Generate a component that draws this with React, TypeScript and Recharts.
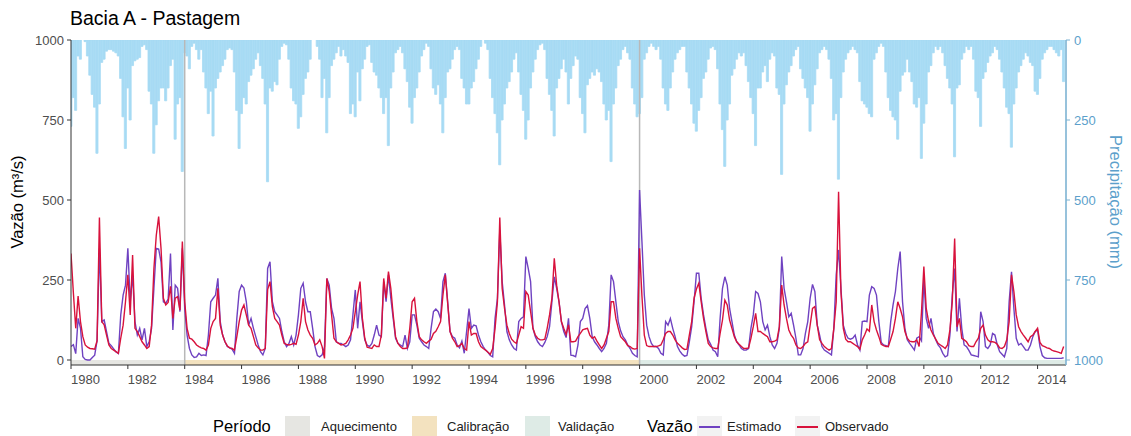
import { ComposedChart, Bar, Line, XAxis, YAxis, ReferenceArea, ReferenceLine } from 'recharts'

// monthly series, Jan 1980 .. Dec 2014 (one row per year)
const START_YEAR = 1980

const observado = [
  333, 210, 99, 200, 120, 73, 47, 40, 36, 35, 34, 60,
  445, 120, 110, 78, 47, 36, 31, 26, 21, 68, 109, 182,
  266, 141, 328, 99, 89, 73, 57, 47, 36, 42, 109, 286,
  390, 448, 349, 193, 172, 180, 230, 130, 193, 198, 156, 370,
  182, 99, 68, 65, 57, 47, 42, 38, 36, 31, 47, 99,
  120, 130, 224, 109, 78, 57, 44, 38, 36, 31, 73, 120,
  156, 172, 141, 109, 99, 73, 47, 38, 31, 31, 36, 220,
  245, 167, 130, 120, 109, 78, 52, 49, 47, 49, 52, 49,
  78, 120, 193, 120, 94, 78, 68, 47, 52, 63, 42, 5,
  255, 214, 141, 68, 57, 52, 47, 49, 52, 63, 78, 99,
  151, 203, 245, 130, 68, 40, 38, 36, 47, 42, 42, 78,
  255, 193, 276, 224, 141, 73, 52, 42, 36, 36, 38, 99,
  182, 193, 120, 73, 63, 57, 52, 59, 65, 83, 90, 104,
  120, 203, 266, 177, 89, 68, 57, 42, 45, 52, 36, 31,
  120, 78, 83, 83, 57, 42, 36, 31, 24, 18, 36, 99,
  182, 445, 224, 161, 109, 83, 65, 57, 52, 78, 104, 99,
  214, 203, 151, 99, 78, 68, 63, 63, 65, 99, 141, 193,
  318, 234, 182, 120, 99, 80, 110, 57, 57, 59, 73, 83,
  94, 97, 99, 78, 68, 73, 59, 47, 36, 47, 68, 89,
  182, 182, 130, 99, 73, 65, 57, 45, 42, 36, 34, 36,
  349, 200, 78, 45, 42, 42, 42, 42, 44, 47, 63, 83,
  89, 89, 78, 63, 52, 45, 38, 33, 34, 78, 120, 193,
  222, 240, 182, 130, 89, 52, 42, 38, 36, 36, 83, 125,
  187, 172, 125, 99, 73, 57, 49, 42, 36, 36, 38, 68,
  104, 146, 89, 89, 83, 78, 73, 57, 57, 59, 63, 104,
  234, 172, 130, 94, 78, 68, 47, 38, 36, 42, 52, 57,
  109, 161, 167, 109, 63, 52, 42, 36, 31, 36, 99, 182,
  526, 214, 99, 65, 57, 57, 52, 47, 42, 34, 63, 78,
  97, 90, 172, 120, 94, 73, 49, 45, 42, 42, 65, 89,
  130, 182, 161, 135, 89, 68, 59, 57, 57, 63, 42, 150,
  292, 161, 120, 94, 78, 65, 52, 47, 42, 36, 47, 94,
  182, 380, 104, 130, 68, 63, 57, 45, 42, 42, 57, 68,
  99, 109, 78, 63, 57, 57, 55, 49, 38, 36, 42, 63,
  120, 266, 214, 141, 104, 89, 78, 68, 57, 73, 78, 89,
  99, 55, 45, 42, 38, 36, 31, 28, 26, 24, 21, 42,
]

const estimado = [
  42, 48, 20, 130, 100, 10, 2, 0, 0, 8, 15, 60,
  349, 120, 125, 89, 52, 45, 35, 25, 20, 141, 203, 234,
  349, 182, 266, 120, 78, 99, 63, 99, 42, 57, 99, 224,
  349, 347, 307, 182, 177, 190, 333, 94, 234, 224, 151, 349,
  161, 78, 36, 16, 8, 10, 21, 14, 16, 14, 78, 182,
  193, 203, 255, 120, 78, 57, 42, 38, 34, 21, 130, 214,
  234, 225, 182, 109, 130, 99, 73, 47, 26, 16, 36, 286,
  307, 182, 151, 141, 130, 89, 57, 42, 52, 73, 47, 78,
  141, 224, 240, 182, 151, 151, 99, 42, 14, 10, 16, 42,
  255, 234, 161, 130, 57, 52, 52, 47, 42, 47, 63, 141,
  219, 99, 182, 120, 63, 47, 42, 52, 78, 109, 78, 73,
  245, 182, 266, 193, 130, 68, 52, 47, 42, 78, 36, 57,
  141, 141, 109, 68, 57, 47, 42, 36, 99, 151, 159, 151,
  130, 245, 271, 182, 89, 73, 68, 47, 38, 59, 21, 90,
  161, 99, 109, 107, 78, 57, 42, 31, 24, 14, 10, 130,
  193, 406, 245, 172, 89, 63, 47, 36, 31, 120, 130, 135,
  323, 286, 245, 99, 73, 57, 47, 42, 55, 73, 104, 182,
  260, 224, 182, 120, 89, 70, 130, 15, 14, 10, 47, 120,
  130, 161, 170, 130, 73, 57, 47, 36, 26, 36, 52, 109,
  266, 245, 182, 120, 91, 73, 63, 47, 36, 21, 14, 10,
  531, 370, 203, 109, 73, 52, 42, 42, 36, 21, 16, 120,
  109, 130, 99, 73, 42, 28, 18, 12, 14, 57, 104, 182,
  271, 271, 193, 141, 99, 63, 49, 31, 26, 10, 130, 224,
  260, 234, 161, 120, 78, 57, 47, 36, 31, 31, 36, 99,
  141, 214, 208, 182, 120, 94, 109, 73, 47, 36, 52, 99,
  323, 224, 182, 135, 146, 109, 68, 16, 16, 36, 83, 120,
  193, 236, 214, 109, 78, 42, 31, 26, 21, 16, 99, 266,
  344, 224, 109, 83, 68, 65, 68, 78, 47, 31, 120, 122,
  120, 203, 229, 224, 203, 120, 55, 47, 45, 42, 120, 172,
  214, 286, 339, 182, 99, 63, 52, 42, 31, 68, 73, 60,
  255, 130, 99, 130, 83, 63, 47, 38, 21, 10, 14, 78,
  203, 286, 89, 193, 99, 47, 42, 30, 16, 14, 12, 10,
  151, 120, 42, 36, 47, 83, 78, 47, 26, 18, 10, 36,
  182, 276, 161, 68, 47, 52, 42, 31, 31, 47, 73, 89,
  94, 42, 14, 7, 5, 5, 5, 5, 5, 5, 5, 7,
]

const precipitacao = [
  270, 180, 220, 50, 60, 0, 5, 50, 110, 170, 210, 354,
  200, 70, 60, 35, 30, 30, 35, 40, 50, 120, 240, 339,
  150, 250, 80, 65, 60, 55, 20, 15, 30, 160, 200, 354,
  265, 190, 150, 150, 190, 150, 80, 60, 310, 200, 180, 411,
  40, 50, 90, 20, 10, 30, 60, 30, 100, 150, 230, 160,
  300, 150, 120, 100, 80, 60, 30, 25, 30, 100, 220, 339,
  230, 180, 200, 130, 110, 90, 60, 40, 80, 120, 200, 443,
  150, 160, 130, 140, 60, 20, 10, 15, 60, 150, 190, 200,
  276, 240, 170, 120, 100, 60, 0, 0, 20, 60, 180, 120,
  290, 180, 80, 60, 40, 20, 50, 30, 50, 70, 230, 200,
  240, 100, 190, 90, 60, 20, 15, 70, 100, 110, 150, 180,
  230, 180, 330, 150, 100, 40, 30, 20, 40, 90, 130, 210,
  260, 180, 150, 100, 50, 30, 10, 20, 90, 150, 170, 140,
  200, 290, 180, 100, 90, 60, 30, 20, 30, 120, 150, 200,
  200, 150, 130, 90, 60, 20, 0, 10, 30, 120, 180, 230,
  290, 390, 250, 200, 150, 130, 100, 60, 40, 100, 170, 220,
  310, 250, 150, 100, 60, 30, 15, 10, 30, 120, 170, 220,
  300, 150, 120, 90, 60, 100, 200, 120, 80, 50, 60, 180,
  230, 290, 140, 120, 100, 110, 90, 100, 130, 200, 250, 220,
  380, 200, 150, 80, 60, 30, 20, 40, 60, 150, 200, 240,
  230, 180, 60, 40, 20, 10, 20, 30, 20, 60, 150, 200,
  220, 150, 100, 60, 40, 30, 20, 20, 100, 150, 200, 260,
  285, 220, 180, 120, 100, 60, 25, 20, 30, 90, 200, 280,
  395, 250, 200, 110, 90, 60, 40, 50, 40, 80, 130, 180,
  230, 330, 150, 150, 100, 80, 130, 60, 40, 50, 150, 170,
  420, 200, 140, 100, 80, 50, 30, 20, 90, 120, 150, 180,
  285, 200, 140, 90, 40, 30, 20, 30, 60, 120, 250, 230,
  435, 180, 100, 60, 40, 30, 20, 30, 40, 130, 190, 200,
  210, 230, 240, 60, 40, 20, 10, 20, 100, 180, 220, 240,
  250, 310, 160, 110, 100, 60, 100, 130, 200, 210, 180, 370,
  260, 200, 100, 80, 40, 20, 30, 20, 40, 80, 120, 150,
  200, 365, 150, 140, 60, 40, 20, 30, 20, 60, 160, 180,
  270, 120, 100, 70, 50, 40, 20, 30, 60, 100, 150, 210,
  230, 335, 200, 150, 100, 80, 60, 40, 50, 70, 80, 160,
  170, 120, 60, 40, 30, 20, 20, 30, 40, 50, 30, 130,
]

const yearTicks = [1980, 1982, 1984, 1986, 1988, 1990, 1992, 1994, 1996, 1998, 2000, 2002, 2004, 2006, 2008, 2010, 2012, 2014]
const valueTicks = [0, 250, 500, 750, 1000]

const periodos = [
  { name: 'Aquecimento', from: 1980, to: 1984 },
  { name: 'Calibração', from: 1984, to: 2000 },
  { name: 'Validação', from: 2000, to: 2015 },
]
const periodColors: Record<string, string> = {
  'Aquecimento': '#e6e6e2',
  'Calibração': '#f3e2bf',
  'Validação': '#deebe6',
}

const EST_COLOR = '#6f42c1'
const OBS_COLOR = '#d8123c'
const RAIN_COLOR = '#a7dbf4'
const RIGHT_COLOR = '#5c9fcb'

const data = observado.map((v, i) => ({
  t: START_YEAR + i / 12,
  obs: v,
  est: estimado[i],
  prec: precipitacao[i],
}))

const YearTick = ({ x, y, payload }: any) => (
  <text x={x} y={y} dy="0.71em" textAnchor="start" fill="#4d4d4d" fontSize={13}>
    {payload.value}
  </text>
)

function LegendBox({ left, color, line }: { left: number; color: string; line?: string }) {
  return (
    <div style={{ position: 'absolute', left, top: 0, width: 25, height: 22, background: color }}>
      {line && <div style={{ position: 'absolute', left: 2, right: 2, top: 10, height: 1.5, background: line }} />}
    </div>
  )
}

function LegendText({ left, children, big }: { left: number; children: string; big?: boolean }) {
  return (
    <span style={{ position: 'absolute', left, top: big ? 1 : 3, fontSize: big ? 16.5 : 13, color: big ? '#000' : '#222', whiteSpace: 'nowrap' }}>
      {children}
    </span>
  )
}

export default function App() {
  return (
    <div style={{ position: 'relative', width: 1131, height: 436, background: '#fff', fontFamily: '"Liberation Sans", Arial, sans-serif', overflow: 'hidden' }}>
      <style>{`body{margin:0}`}</style>
      <div style={{ position: 'absolute', left: 70, top: 7, fontSize: 19.5, color: '#000' }}>Bacia A - Pastagem</div>

      <ComposedChart width={1131} height={400} data={data} margin={{ top: 40, right: 0, bottom: 5, left: 0 }}>
        <XAxis
          type="number"
          dataKey="t"
          domain={[1980, 2015]}
          ticks={yearTicks}
          allowDataOverflow
          tick={<YearTick />}
          tickSize={4}
          tickMargin={6}
          height={30}
          axisLine={{ stroke: '#333' }}
          tickLine={{ stroke: '#333' }}
        />
        <YAxis
          yAxisId="q"
          domain={[-15.6, 1000]}
          ticks={valueTicks}
          allowDataOverflow
          width={71}
          tickSize={4}
          tickMargin={3}
          tick={{ fill: '#4d4d4d', fontSize: 13 }}
          axisLine={{ stroke: '#333' }}
          tickLine={{ stroke: '#333' }}
          label={{
            content: () => (
              <text x={19} y={202} transform="rotate(-90 19 202)" textAnchor="middle" dominantBaseline="middle" fontSize={16.5} fill="#000">
                Vazão (m³/s)
              </text>
            ),
          }}
        />
        <YAxis
          yAxisId="p"
          orientation="right"
          reversed
          domain={[0, 1015.6]}
          ticks={valueTicks}
          allowDataOverflow
          width={65}
          tickSize={4}
          tickMargin={4}
          tick={{ fill: RIGHT_COLOR, fontSize: 13 }}
          axisLine={{ stroke: '#7db3d3', strokeWidth: 1.6 }}
          tickLine={{ stroke: '#7db3d3' }}
          label={{
            content: () => (
              <text x={1114} y={202} transform="rotate(90 1114 202)" textAnchor="middle" dominantBaseline="middle" fontSize={16.5} fill={RIGHT_COLOR}>
                Precipitação (mm)
              </text>
            ),
          }}
        />

        {periodos.map((p) => (
          <ReferenceArea key={p.name} yAxisId="q" x1={p.from} x2={p.to} y1={-15.6} y2={0} fill={periodColors[p.name]} fillOpacity={1} stroke="none" />
        ))}

        <Bar yAxisId="p" dataKey="prec" fill={RAIN_COLOR} stroke={RAIN_COLOR} strokeWidth={0.8} barSize={3} isAnimationActive={false} />

        {periodos.slice(1).map((p) => (
          <ReferenceLine key={p.name} yAxisId="q" x={p.from} stroke="#b8b8b8" strokeWidth={1.5} />
        ))}

        <Line yAxisId="q" type="linear" dataKey="est" stroke={EST_COLOR} strokeWidth={1.4} dot={false} isAnimationActive={false} />
        <Line yAxisId="q" type="linear" dataKey="obs" stroke={OBS_COLOR} strokeWidth={1.4} dot={false} isAnimationActive={false} />
      </ComposedChart>

      <div style={{ position: 'absolute', left: 0, top: 416, width: 1131, height: 24 }}>
        <LegendText left={213} big>Período</LegendText>
        <LegendBox left={285} color={periodColors['Aquecimento']} />
        <LegendText left={321}>Aquecimento</LegendText>
        <LegendBox left={412} color={periodColors['Calibração']} />
        <LegendText left={447}>Calibração</LegendText>
        <LegendBox left={525} color={periodColors['Validação']} />
        <LegendText left={558}>Validação</LegendText>
        <LegendText left={647} big>Vazão</LegendText>
        <LegendBox left={697} color="#f2f2f2" line={EST_COLOR} />
        <LegendText left={727}>Estimado</LegendText>
        <LegendBox left={795} color="#f2f2f2" line={OBS_COLOR} />
        <LegendText left={825}>Observado</LegendText>
      </div>
    </div>
  )
}
